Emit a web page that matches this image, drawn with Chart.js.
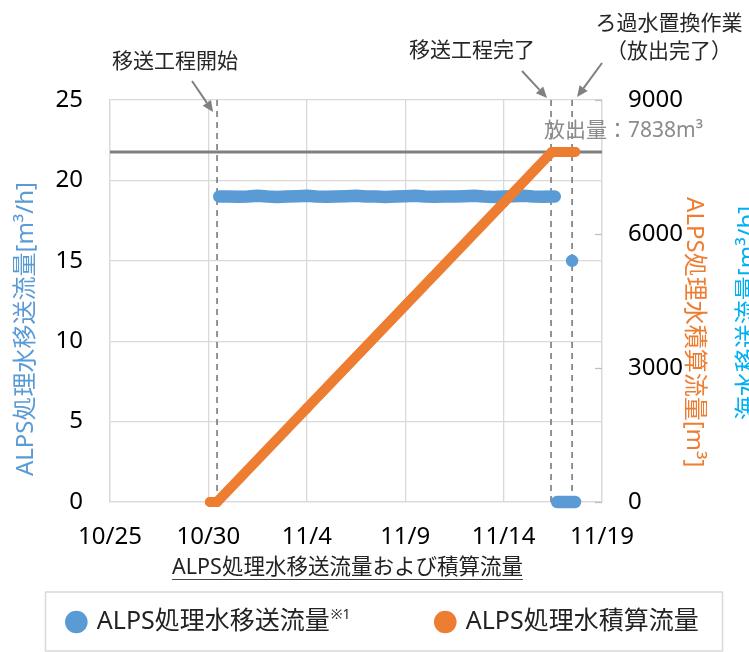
<!DOCTYPE html>
<html lang="ja">
<head>
<meta charset="utf-8">
<title>ALPS処理水移送流量および積算流量</title>
<script src="https://cdn.jsdelivr.net/npm/chart.js@4.4.1/dist/chart.umd.min.js"></script>
<style>
  html, body { margin: 0; padding: 0; background: #fff; }
  #wrap { width: 749px; height: 652px; }
</style>
</head>
<body>
<div id="wrap"><canvas id="chart"></canvas></div>
<script>
// x values are days counted from 10/25 00:00
const dateLabels = ['10/25', '10/30', '11/4', '11/9', '11/14', '11/19'];

// ALPS処理水移送流量 [m3/h]
const flowDays = [5.55, 6, 6.5, 7, 7.5, 8, 8.5, 9, 9.5, 10, 10.5, 11, 11.5, 12, 12.5, 13, 13.5,
  14, 14.5, 15, 15.5, 16, 16.5, 17, 17.5, 18, 18.5, 19, 19.5, 20, 20.5, 21, 21.5, 22, 22.6];
const flowRate = [19.0, 19.0, 18.98, 19.0, 19.05, 19.0, 18.97, 19.0, 19.02, 19.05,
  19.0, 18.98, 19.0, 19.02, 19.05, 19.0, 19.0, 18.97, 19.0, 19.02,
  19.05, 19.0, 18.98, 19.0, 19.0, 19.02, 19.05, 19.0, 18.97, 19.0,
  19.02, 19.05, 19.0, 18.98, 19.0];
// after the transfer stopped
const stopDays = [22.72, 23.0, 23.3, 23.63];
const stopRate = [0, 0, 0, 0];
const lastDays = [23.48];
const lastRate = [15];

// ALPS処理水積算流量 [m3]
const totalDays = [5.08, 5.44, 10, 15, 20, 22.46, 23.0, 23.63];
const totalVolume = [0, 0, 2100, 4400, 6700, 7838, 7838, 7838];

const releasedVolume = 7838;
const eventDays = [5.44, 22.41, 23.48];

const BLUE = '#5B9BD5';
const ORANGE = '#ED7D31';
const FONT = "'Noto Sans', 'Noto Sans CJK JP', sans-serif";

Chart.defaults.font.family = FONT;
Chart.defaults.color = '#000';

const toPoints = (xs, ys) => xs.map((d, i) => ({ x: d, y: ys[i] }));

const flowPoints = toPoints(flowDays, flowRate)
  .concat([{ x: 22.66, y: null }])
  .concat(toPoints(stopDays, stopRate))
  .concat([{ x: 23.64, y: null }])
  .concat(toPoints(lastDays, lastRate));

const eventSets = eventDays.map((d) => ({
  label: 'event',
  data: [{ x: d, y: 0 }, { x: d, y: 25 }],
  yAxisID: 'y',
  showLine: true,
  borderColor: '#707070',
  borderWidth: 1.5,
  borderDash: [6, 5],
  pointRadius: 0,
  order: 3,
}));

const notes = [
  { lines: ['移送工程開始'], tx: 175, ty: 62, from: [192, 81], dx: -4, tipY: 112 },
  { lines: ['移送工程完了'], tx: 472, ty: 51, from: [522, 71], dx: -4, tipY: 98 },
  { lines: ['ろ過水置換作業', '（放出完了）'], tx: 669, ty: 24, from: [602, 63], dx: 5, tipY: 97 },
];

function arrow(ctx, x0, y0, x1, y1) {
  const a = Math.atan2(y1 - y0, x1 - x0);
  const len = 11, half = 5;
  const bx = x1 - len * Math.cos(a), by = y1 - len * Math.sin(a);
  ctx.beginPath();
  ctx.moveTo(x0, y0);
  ctx.lineTo(bx, by);
  ctx.stroke();
  ctx.beginPath();
  ctx.moveTo(x1, y1);
  ctx.lineTo(bx + half * Math.sin(a), by - half * Math.cos(a));
  ctx.lineTo(bx - half * Math.sin(a), by + half * Math.cos(a));
  ctx.closePath();
  ctx.fill();
}

const LEGEND_SIZE = 25;

const decorations = {
  id: 'decorations',
  afterLayout(chart) {
    // the legend row sits a little right of the canvas centre
    chart.legend.left = 18;
  },
  beforeDatasetsDraw(chart) {
    // short inward tick marks of the right axis
    const { ctx, chartArea, scales } = chart;
    ctx.save();
    ctx.strokeStyle = '#bfbfbf';
    ctx.lineWidth = 1.3;
    scales.y1.ticks.forEach((t) => {
      const py = Math.round(scales.y1.getPixelForValue(t.value)) + 0.5;
      ctx.beginPath();
      ctx.moveTo(chartArea.right - 7, py);
      ctx.lineTo(chartArea.right, py);
      ctx.stroke();
    });
    ctx.restore();
  },
  afterDraw(chart) {
    const { ctx, chartArea, scales } = chart;
    ctx.save();

    // notes above the plot
    ctx.font = '21px ' + FONT;
    ctx.textAlign = 'center';
    ctx.textBaseline = 'middle';
    notes.forEach((n, i) => {
      ctx.fillStyle = '#262626';
      n.lines.forEach((t, j) => ctx.fillText(t, n.tx, n.ty + j * 28));
      ctx.strokeStyle = '#808080';
      ctx.fillStyle = '#808080';
      ctx.lineWidth = 2;
      arrow(ctx, n.from[0], n.from[1], scales.x.getPixelForValue(eventDays[i]) + n.dx, n.tipY);
    });

    // released volume label
    const ry = scales.y1.getPixelForValue(releasedVolume);
    ctx.fillStyle = '#8c8c8c';
    ctx.textAlign = 'right';
    ctx.fillText('放出量：' + releasedVolume + 'm³', chartArea.right + 101, ry - 21);

    // x axis caption, underlined
    const capX = chartArea.left + 237.5, capY = chartArea.bottom + 66;
    const cap = 'ALPS処理水移送流量および積算流量';
    ctx.font = '21.5px ' + FONT;
    ctx.fillStyle = '#222';
    ctx.textAlign = 'center';
    ctx.fillText(cap, capX, capY);
    const w = ctx.measureText(cap).width;
    ctx.strokeStyle = '#444';
    ctx.lineWidth = 1;
    ctx.beginPath();
    ctx.moveTo(capX - w / 2, capY + 11.5);
    ctx.lineTo(capX + w / 2, capY + 11.5);
    ctx.stroke();

    // third axis title, cut by the right edge
    ctx.save();
    ctx.translate(748, 313);
    ctx.rotate(-Math.PI / 2);
    ctx.font = '24px ' + FONT;
    ctx.fillStyle = '#00B0F0';
    ctx.fillText('海水移送流量[m³/h]', 0, 0);
    ctx.restore();

    // legend frame and the ※1 mark
    const lg = chart.legend;
    const pad = lg.options.labels.padding;
    const cy = lg.top + pad + LEGEND_SIZE / 2;
    ctx.strokeStyle = '#d9d9d9';
    ctx.lineWidth = 1.5;
    ctx.strokeRect(45.5, cy - 30, 677, 59);
    const hb = lg.legendHitBoxes[0];
    ctx.font = LEGEND_SIZE + 'px ' + FONT;
    const tw = ctx.measureText('ALPS処理水移送流量').width;
    ctx.font = '14px ' + FONT;
    ctx.fillStyle = '#222';
    ctx.textAlign = 'left';
    ctx.fillText('※1', hb.left + 16 + LEGEND_SIZE / 2 + tw + 1, cy - 7);

    ctx.restore();
  }
};

new Chart(document.getElementById('chart'), {
  type: 'scatter',
  data: {
    datasets: [
      {
        label: 'ALPS処理水移送流量' + ' '.repeat(15),
        data: flowPoints,
        yAxisID: 'y',
        showLine: true,
        spanGaps: false,
        borderColor: BLUE,
        backgroundColor: BLUE,
        borderWidth: 12.5,
        borderCapStyle: 'round',
        borderJoinStyle: 'round',
        pointRadius: 5.5,
        pointBorderWidth: 0,
        pointStyle: 'circle',
        clip: false,
        order: 1,
      },
      {
        label: 'ALPS処理水積算流量',
        data: toPoints(totalDays, totalVolume),
        yAxisID: 'y1',
        showLine: true,
        borderColor: ORANGE,
        backgroundColor: ORANGE,
        borderWidth: 10,
        borderCapStyle: 'round',
        borderJoinStyle: 'round',
        pointRadius: 5,
        pointBorderWidth: 0,
        pointStyle: 'circle',
        clip: false,
        order: 0,
      },
      {
        label: 'release',
        data: [{ x: 0, y: releasedVolume }, { x: 25, y: releasedVolume }],
        yAxisID: 'y1',
        showLine: true,
        borderColor: '#808080',
        borderWidth: 3,
        pointRadius: 0,
        order: 2,
      },
      ...eventSets,
    ],
  },
  options: {
    responsive: true,
    maintainAspectRatio: false,
    animation: false,
    layout: { padding: { top: 100, right: 0, bottom: 7.5, left: 0 } },
    scales: {
      x: {
        type: 'linear',
        min: 0,
        max: 25,
        afterFit: (s) => { s.height = 97.5; },
        ticks: {
          stepSize: 5,
          padding: 21,
          font: { size: 24 },
          color: '#000',
          callback: (v, i) => dateLabels[i],
        },
        grid: { color: '#d9d9d9', lineWidth: 1.3, drawTicks: false },
        border: { color: '#d9d9d9', width: 1.3 },
      },
      y: {
        position: 'left',
        min: 0,
        max: 25,
        afterFit: (s) => { s.width = 110; },
        ticks: { stepSize: 5, padding: 27, font: { size: 24 }, color: '#000' },
        grid: { color: '#d9d9d9', lineWidth: 1.3, drawTicks: false },
        border: { color: '#d9d9d9', width: 1.3 },
        title: {
          display: true,
          text: 'ALPS処理水移送流量[m³/h]' + ' '.repeat(9),
          color: BLUE,
          font: { size: 24 },
          padding: { top: 12, bottom: 0 },
        },
      },
      y1: {
        position: 'right',
        min: 0,
        max: 9000,
        afterFit: (s) => { s.width = 147; },
        ticks: {
          stepSize: 3000,
          padding: 26,
          font: { size: 24 },
          color: '#000',
          callback: (v) => String(v),
        },
        grid: { display: false, drawTicks: false },
        border: { color: '#d9d9d9', width: 1.3 },
        title: {
          display: true,
          text: ' '.repeat(10) + 'ALPS処理水積算流量[m³]',
          color: ORANGE,
          font: { size: 24 },
          padding: { top: 41, bottom: 0 },
        },
      },
    },
    plugins: {
      tooltip: { enabled: false },
      legend: {
        position: 'bottom',
        align: 'center',
        labels: {
          usePointStyle: true,
          pointStyle: 'circle',
          boxWidth: 16,
          boxHeight: 16,
          padding: 10,
          color: '#222',
          font: { size: LEGEND_SIZE },
          filter: (item) => item.datasetIndex < 2,
          sort: (a, b) => a.datasetIndex - b.datasetIndex,
        },
      },
    },
  },
  plugins: [decorations],
});
</script>
</body>
</html>
